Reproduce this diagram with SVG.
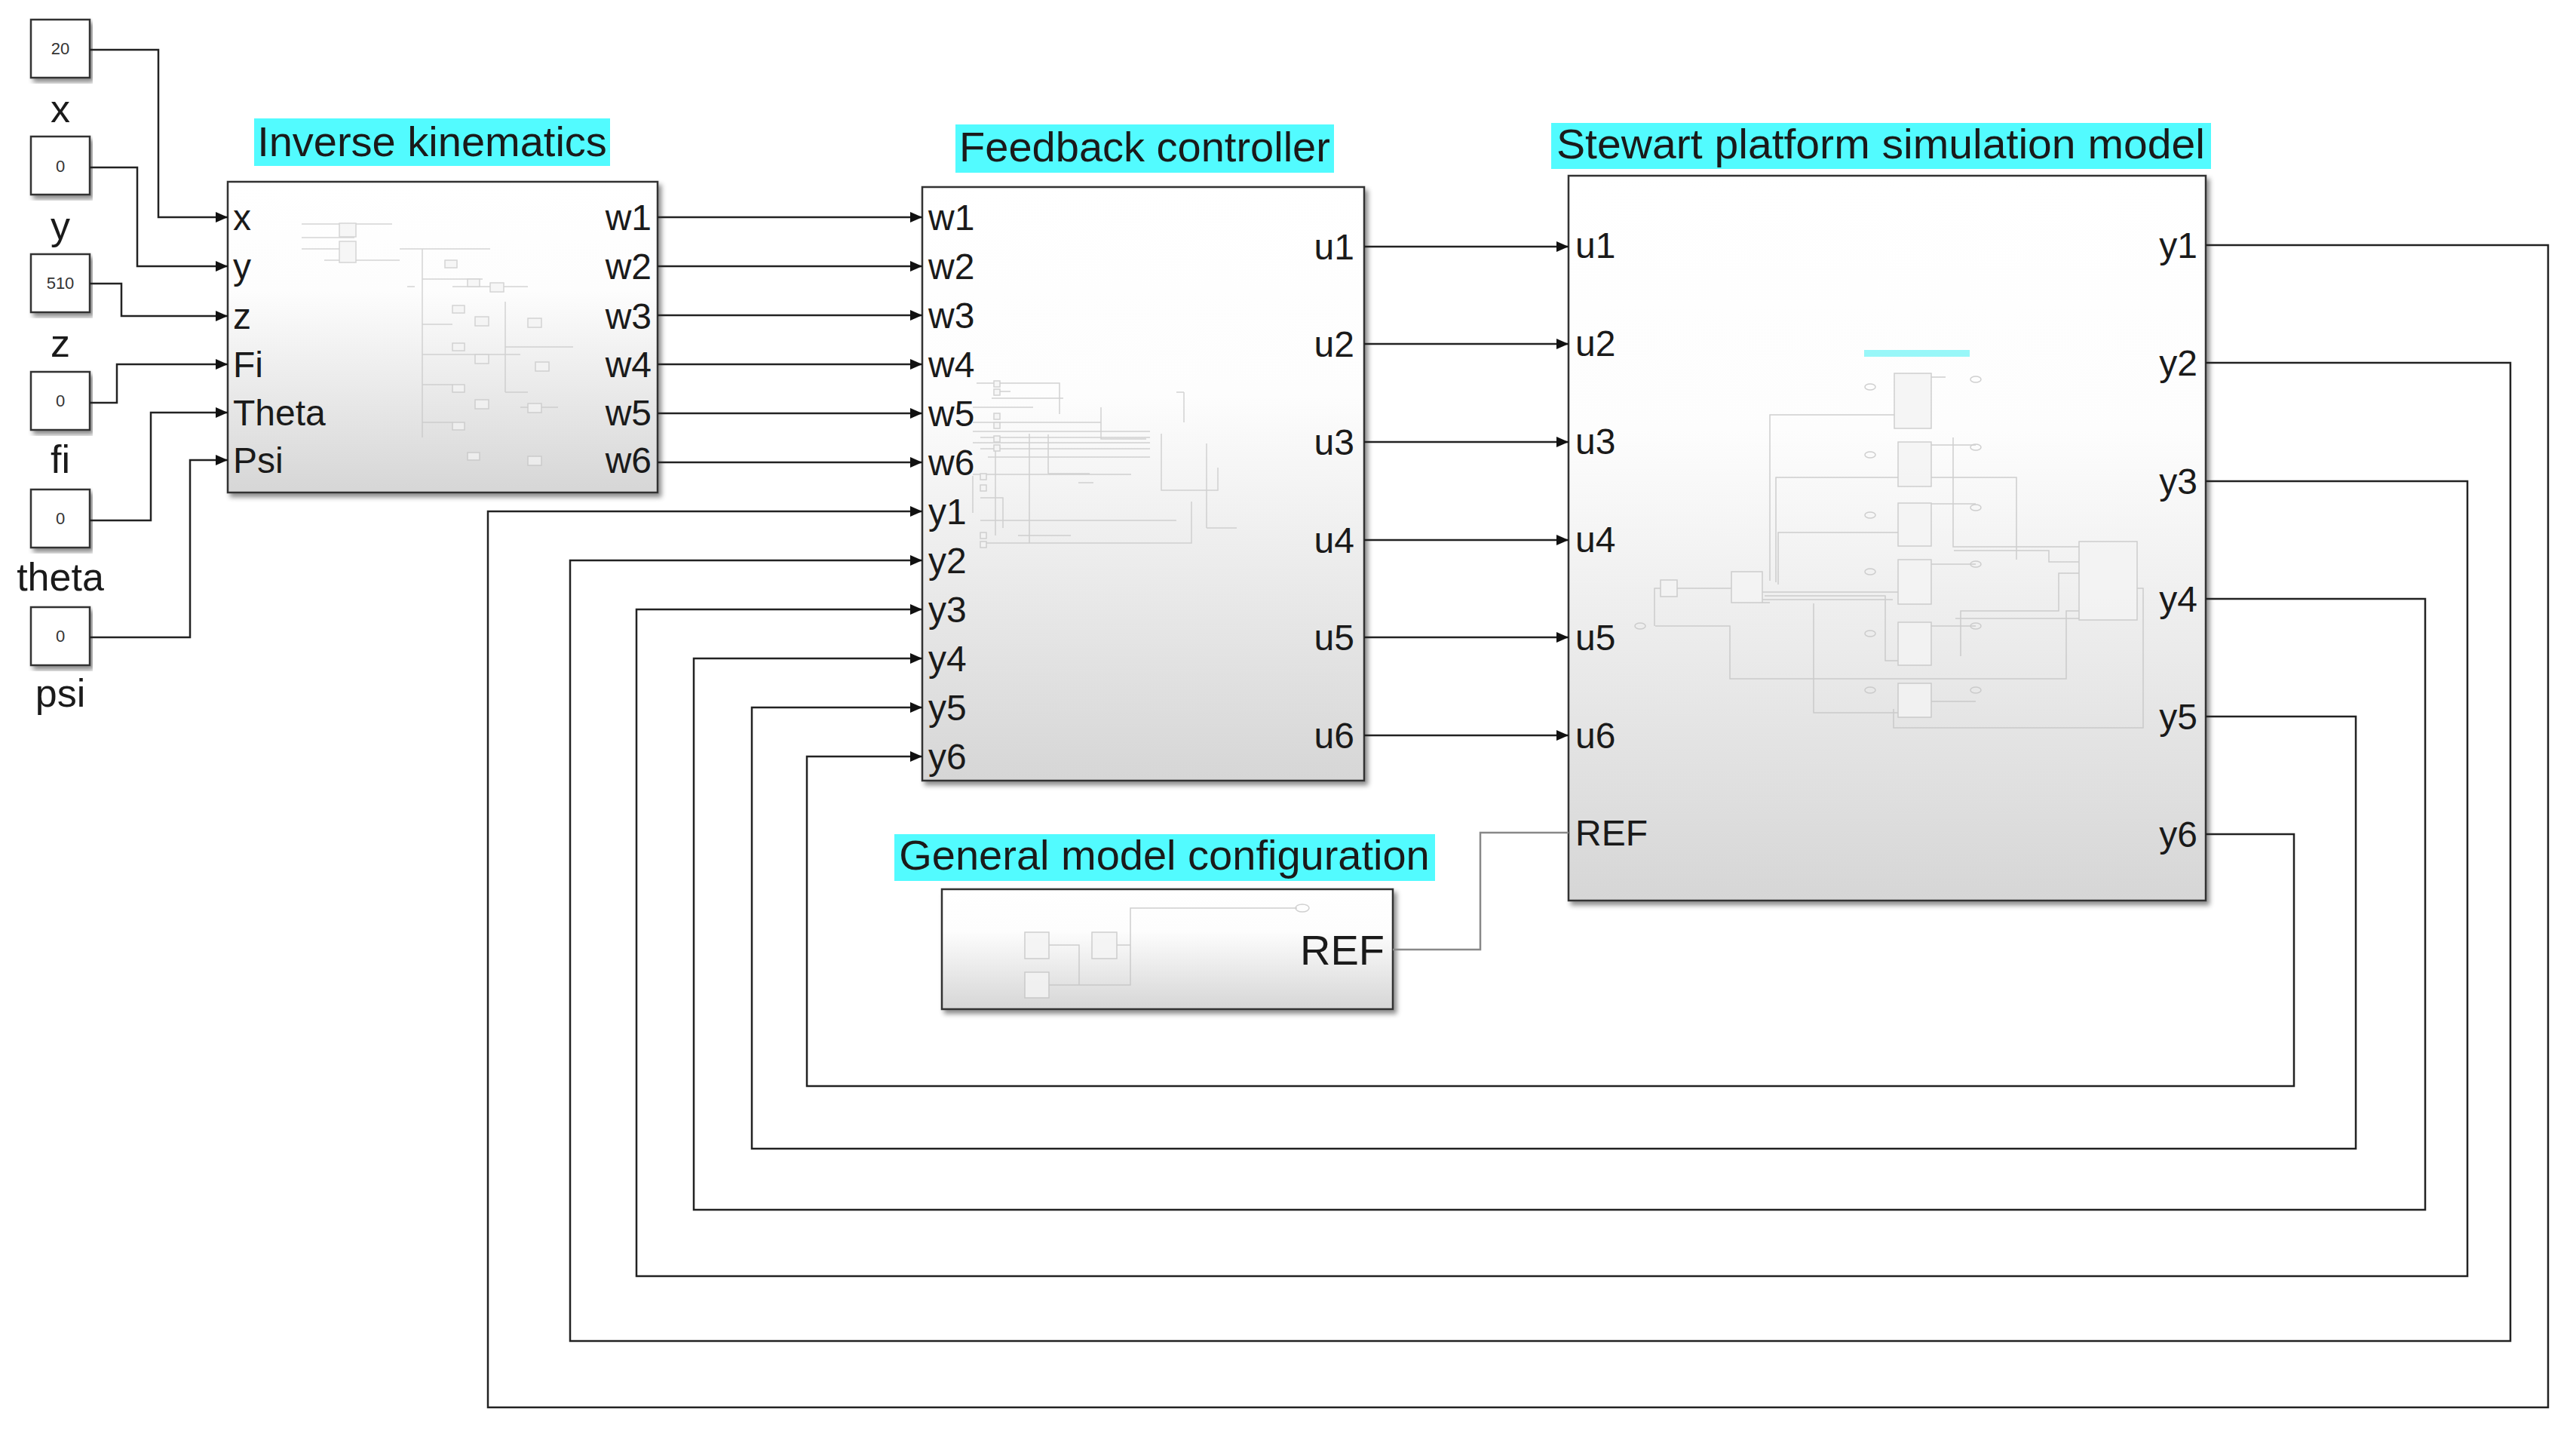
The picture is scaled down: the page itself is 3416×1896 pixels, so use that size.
<svg xmlns="http://www.w3.org/2000/svg" width="3416" height="1896" viewBox="0 0 3416 1896">
<defs>
<linearGradient id="bg" x1="0" y1="0" x2="0" y2="1">
<stop offset="0" stop-color="#ffffff"/><stop offset="0.35" stop-color="#fdfdfd"/><stop offset="1" stop-color="#d6d6d6"/>
</linearGradient>
<filter id="sh" x="-5%" y="-5%" width="110%" height="115%"><feDropShadow dx="4" dy="5" stdDeviation="3" flood-color="#000" flood-opacity="0.45"/></filter>
<marker id="ar" markerWidth="16" markerHeight="14" refX="16" refY="7" orient="auto" markerUnits="userSpaceOnUse"><path d="M0,0 L16,7 L0,14 z" fill="#111"/></marker>
</defs>
<style>
.blk{fill:url(#bg);stroke:#333;stroke-width:2.5;filter:url(#sh)}
.cst{fill:#fff;stroke:#333;stroke-width:2.5;filter:url(#sh)}
.w{fill:none;stroke:#222;stroke-width:2.5}
.wa{fill:none;stroke:#222;stroke-width:2.5;marker-end:url(#ar)}
.t{font-family:"Liberation Sans",Arial,sans-serif;fill:#1a1a1a}
.p{font-family:"Liberation Sans",Arial,sans-serif;fill:#1a1a1a;font-size:48px}
.n{font-family:"Liberation Sans",Arial,sans-serif;fill:#333;font-size:22px;text-anchor:middle}
.lb{font-family:"Liberation Sans",Arial,sans-serif;fill:#1a1a1a;font-size:52px;text-anchor:middle}
.tb{fill:#52fbff}
.f{fill:none;stroke:#c4c4c4;stroke-width:1.5}
.fb{fill:#f4f4f4;stroke:#c4c4c4;stroke-width:1.5}
</style>

<g id="const-x"><rect class="cst" x="41" y="26" width="78" height="77"/><text class="n" x="80" y="72">20</text><text class="lb" x="80" y="162">x</text></g>
<g id="const-y"><rect class="cst" x="41" y="181" width="78" height="77"/><text class="n" x="80" y="228">0</text><text class="lb" x="80" y="317">y</text></g>
<g id="const-z"><rect class="cst" x="41" y="337" width="78" height="77"/><text class="n" x="80" y="383">510</text><text class="lb" x="80" y="473">z</text></g>
<g id="const-fi"><rect class="cst" x="41" y="493" width="78" height="77"/><text class="n" x="80" y="539">0</text><text class="lb" x="80" y="627">fi</text></g>
<g id="const-theta"><rect class="cst" x="41" y="649" width="78" height="77"/><text class="n" x="80" y="695">0</text><text class="lb" x="80" y="783">theta</text></g>
<g id="const-psi"><rect class="cst" x="41" y="805" width="78" height="77"/><text class="n" x="80" y="851">0</text><text class="lb" x="80" y="937">psi</text></g>

<g id="inverse-kinematics">
<rect class="tb" x="337" y="157" width="472" height="63"/>
<text class="t" x="573" y="207" font-size="56" text-anchor="middle">Inverse kinematics</text>
<rect class="blk" x="302" y="241" width="570" height="412"/>
<g opacity="0.7">
<path class="f" d="M400,297 H520 M400,315 H470 M400,330 H470 M430,345 H530 M530,330 H560 V370 M550,330 H650 M550,380 H540 M560,330 V580 M560,370 H640 M560,430 H600 M560,470 H600 M560,510 H600 M560,560 H600 M600,380 H700 M670,400 V520 M670,460 H760 M670,520 H700 M600,470 H690 M690,540 H740"/>
<rect class="fb" x="450" y="296" width="22" height="18"/><rect class="fb" x="450" y="320" width="22" height="28"/><rect class="fb" x="590" y="345" width="16" height="10"/><rect class="fb" x="620" y="370" width="16" height="10"/><rect class="fb" x="650" y="375" width="18" height="12"/><rect class="fb" x="600" y="405" width="16" height="10"/><rect class="fb" x="630" y="420" width="18" height="12"/><rect class="fb" x="700" y="422" width="18" height="12"/><rect class="fb" x="600" y="455" width="16" height="10"/><rect class="fb" x="630" y="470" width="18" height="12"/><rect class="fb" x="710" y="480" width="18" height="12"/><rect class="fb" x="600" y="510" width="16" height="10"/><rect class="fb" x="630" y="530" width="18" height="12"/><rect class="fb" x="700" y="535" width="18" height="12"/><rect class="fb" x="600" y="560" width="16" height="10"/><rect class="fb" x="620" y="600" width="16" height="10"/><rect class="fb" x="700" y="605" width="18" height="12"/>
</g>
<text class="p" x="309" y="305">x</text><text class="p" x="309" y="370">y</text><text class="p" x="309" y="436">z</text><text class="p" x="309" y="500">Fi</text><text class="p" x="309" y="564">Theta</text><text class="p" x="309" y="627">Psi</text>
<g text-anchor="end"><text class="p" x="864" y="305">w1</text><text class="p" x="864" y="370">w2</text><text class="p" x="864" y="436">w3</text><text class="p" x="864" y="500">w4</text><text class="p" x="864" y="564">w5</text><text class="p" x="864" y="627">w6</text></g>
</g>

<g id="feedback-controller">
<rect class="tb" x="1267" y="165" width="502" height="64"/>
<text class="t" x="1518" y="214" font-size="56" text-anchor="middle">Feedback controller</text>
<rect class="blk" x="1223" y="248" width="586" height="787"/>
<g opacity="0.75">
<path class="f" d="M1295,508 H1405 V549 M1320,519 H1340 M1315,528 H1410 M1290,540 H1370 M1290,560 H1460 M1290,572 H1525 M1300,580 H1525 M1290,587 H1525 M1300,595 H1525 M1320,590 V710 M1310,606 H1525 M1390,576 V628 M1390,628 H1445 M1290,631 V680 M1290,629 H1500 M1570,560 V520 M1570,520 H1560 M1600,588 V700 M1600,700 H1640 M1300,690 H1560 M1300,720 H1580 V665 M1420,710 H1350 M1365,575 V720 M1430,640 H1450 M1460,540 V582 H1520 M1300,660 H1330 V700 M1540,575 V650 H1615 V620"/>
<rect class="fb" x="1318" y="505" width="8" height="8"/><rect class="fb" x="1318" y="516" width="8" height="8"/><rect class="fb" x="1318" y="548" width="8" height="8"/><rect class="fb" x="1318" y="560" width="8" height="8"/><rect class="fb" x="1318" y="578" width="8" height="8"/><rect class="fb" x="1318" y="590" width="8" height="8"/><rect class="fb" x="1300" y="628" width="8" height="8"/><rect class="fb" x="1300" y="643" width="8" height="8"/><rect class="fb" x="1300" y="706" width="8" height="8"/><rect class="fb" x="1300" y="718" width="8" height="8"/>
</g>
<text class="p" x="1231" y="305">w1</text><text class="p" x="1231" y="370">w2</text><text class="p" x="1231" y="435">w3</text><text class="p" x="1231" y="500">w4</text><text class="p" x="1231" y="565">w5</text><text class="p" x="1231" y="630">w6</text>
<text class="p" x="1231" y="695">y1</text><text class="p" x="1231" y="760">y2</text><text class="p" x="1231" y="825">y3</text><text class="p" x="1231" y="890">y4</text><text class="p" x="1231" y="955">y5</text><text class="p" x="1231" y="1020">y6</text>
<g text-anchor="end"><text class="p" x="1796" y="344">u1</text><text class="p" x="1796" y="473">u2</text><text class="p" x="1796" y="603">u3</text><text class="p" x="1796" y="733">u4</text><text class="p" x="1796" y="862">u5</text><text class="p" x="1796" y="992">u6</text></g>
</g>

<g id="stewart-platform">
<rect class="tb" x="2057" y="163" width="875" height="61"/>
<text class="t" x="2064" y="210" font-size="56" textLength="860" lengthAdjust="spacingAndGlyphs">Stewart platform simulation model</text>
<rect class="blk" x="2080" y="233" width="845" height="961"/>
<g opacity="0.8">
<rect x="2472" y="464" width="140" height="9" fill="#7ff6f8"/>
<path class="f" d="M2347,799 H2337 M2347,770 V550 H2512 M2355,772 V633 H2674 V742 M2358,775 V706 H2517 M2340,790 H2500 V876 H2517 M2337,785 H2520 M2337,795 H2510 M2224,780 H2296 M2195,830 H2294 V900 H2740 V810 H2757 M2194,830 V780 H2202 M2405,800 V945 H2517 M2590,580 V725 H2757 M2593,820 H2757 M2600,870 V810 H2730 V760 H2757 M2591,730 H2717 V745 H2757 M2511,940 V965 H2842 V780 H2834 M2561,500 H2580 M2561,590 H2620 M2561,668 H2620 M2561,748 H2620 M2561,830 H2620 M2561,930 H2620"/>
<rect class="fb" x="2512" y="495" width="49" height="73"/><rect class="fb" x="2517" y="586" width="44" height="59"/><rect class="fb" x="2517" y="667" width="44" height="57"/><rect class="fb" x="2517" y="742" width="44" height="59"/><rect class="fb" x="2517" y="825" width="44" height="57"/><rect class="fb" x="2517" y="906" width="44" height="45"/>
<rect class="fb" x="2757" y="718" width="77" height="104"/><rect class="fb" x="2296" y="758" width="41" height="41"/><rect class="fb" x="2202" y="769" width="22" height="22"/>
<g class="f"><ellipse cx="2480" cy="513" rx="7" ry="4"/><ellipse cx="2620" cy="503" rx="7" ry="4"/><ellipse cx="2480" cy="603" rx="7" ry="4"/><ellipse cx="2620" cy="593" rx="7" ry="4"/><ellipse cx="2480" cy="683" rx="7" ry="4"/><ellipse cx="2620" cy="673" rx="7" ry="4"/><ellipse cx="2480" cy="758" rx="7" ry="4"/><ellipse cx="2620" cy="748" rx="7" ry="4"/><ellipse cx="2480" cy="840" rx="7" ry="4"/><ellipse cx="2620" cy="830" rx="7" ry="4"/><ellipse cx="2480" cy="915" rx="7" ry="4"/><ellipse cx="2620" cy="915" rx="7" ry="4"/><ellipse cx="2175" cy="830" rx="7" ry="4"/></g>
</g>
<text class="p" x="2089" y="342">u1</text><text class="p" x="2089" y="472">u2</text><text class="p" x="2089" y="602">u3</text><text class="p" x="2089" y="732">u4</text><text class="p" x="2089" y="862">u5</text><text class="p" x="2089" y="992">u6</text><text class="p" x="2089" y="1121">REF</text>
<g text-anchor="end"><text class="p" x="2914" y="342">y1</text><text class="p" x="2914" y="498">y2</text><text class="p" x="2914" y="655">y3</text><text class="p" x="2914" y="811">y4</text><text class="p" x="2914" y="967">y5</text><text class="p" x="2914" y="1123">y6</text></g>
</g>

<g id="general-model-configuration">
<rect class="tb" x="1186" y="1106" width="717" height="62"/>
<text class="t" x="1544" y="1153" font-size="56" text-anchor="middle">General model configuration</text>
<rect class="blk" x="1249" y="1179" width="598" height="159"/>
<g opacity="0.8">
<path class="f" d="M1391,1253 H1431 V1306 H1391 M1431,1306 H1499 V1204 H1720 M1481,1253 H1499"/>
<rect class="fb" x="1359" y="1236" width="32" height="35"/><rect class="fb" x="1359" y="1289" width="32" height="34"/><rect class="fb" x="1448" y="1236" width="33" height="35"/>
<ellipse class="f" cx="1727" cy="1204" rx="9" ry="5"/>
</g>
<text class="t" x="1836" y="1279" font-size="56" text-anchor="end">REF</text>
</g>

<g id="connectors">
<path class="wa" d="M119,66 H210 V288 H302"/>
<path class="wa" d="M119,222 H182 V353 H302"/>
<path class="wa" d="M119,376 H161 V419 H302"/>
<path class="wa" d="M119,534 H155 V483 H302"/>
<path class="wa" d="M119,690 H200 V547 H302"/>
<path class="wa" d="M119,845 H252 V610 H302"/>
<path class="wa" d="M872,288 H1223"/>
<path class="wa" d="M872,353 H1223"/>
<path class="wa" d="M872,418 H1223"/>
<path class="wa" d="M872,483 H1223"/>
<path class="wa" d="M872,548 H1223"/>
<path class="wa" d="M872,613 H1223"/>
<path class="wa" d="M1809,327 H2080"/>
<path class="wa" d="M1809,456 H2080"/>
<path class="wa" d="M1809,586 H2080"/>
<path class="wa" d="M1809,716 H2080"/>
<path class="wa" d="M1809,845 H2080"/>
<path class="wa" d="M1809,975 H2080"/>
<path d="M1847,1259 H1963 V1104 H2080" fill="none" stroke="#888" stroke-width="2.5"/>
<path class="wa" d="M2925,325 H3379 V1866 H647 V678 H1223"/>
<path class="wa" d="M2925,481 H3329 V1778 H756 V743 H1223"/>
<path class="wa" d="M2925,638 H3272 V1692 H844 V808 H1223"/>
<path class="wa" d="M2925,794 H3216 V1604 H920 V873 H1223"/>
<path class="wa" d="M2925,950 H3124 V1523 H997 V938 H1223"/>
<path class="wa" d="M2925,1106 H3042 V1440 H1070 V1003 H1223"/>
</g>
</svg>
